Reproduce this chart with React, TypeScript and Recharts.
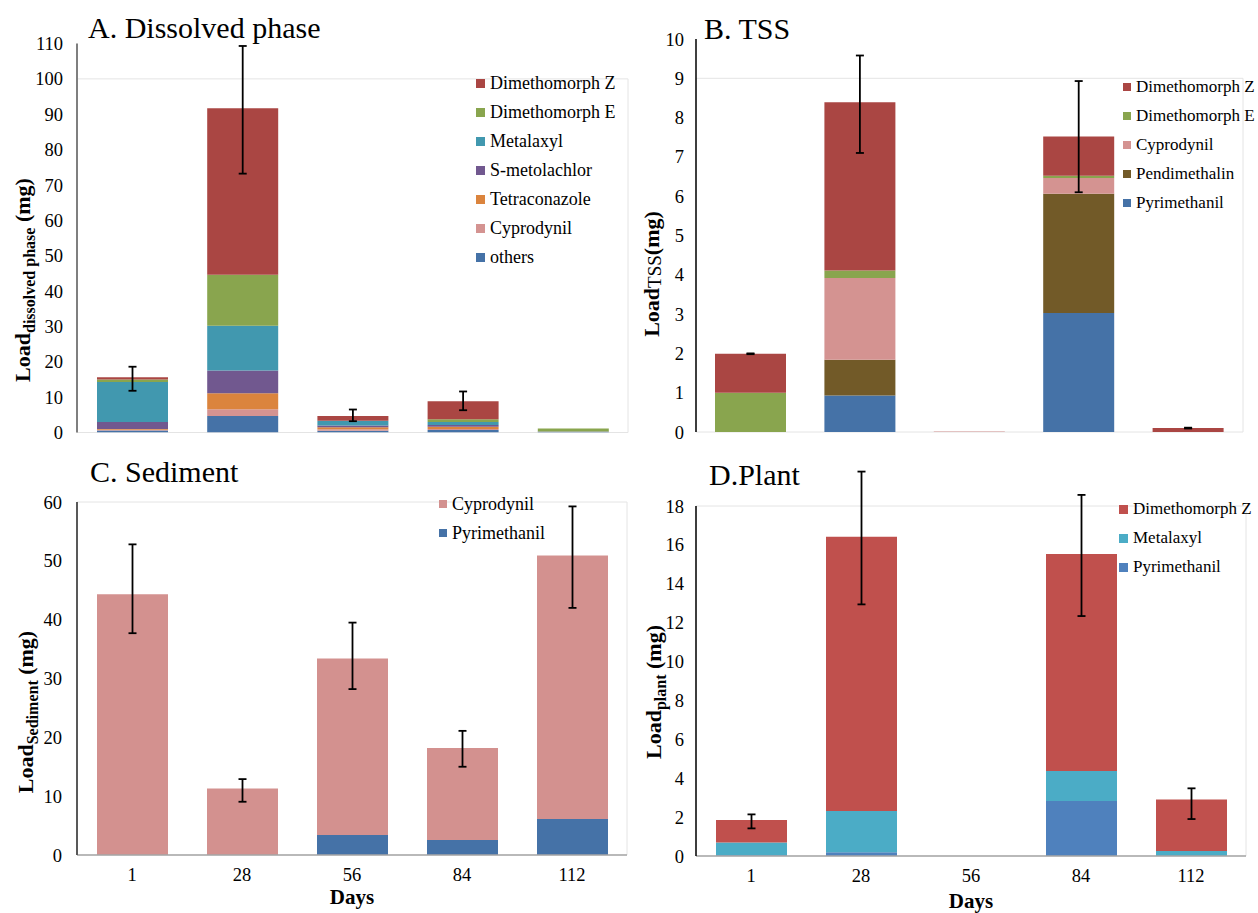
import React from 'react';
import { BarChart, Bar, XAxis, YAxis, ErrorBar, Legend, ReferenceArea } from 'recharts';

const FONT = "'Liberation Serif', 'Times New Roman', Times, serif";

const days = ['1', '28', '56', '84', '112'];

// A. Dissolved phase loads (mg), listed from the bottom of each stack upward
const dissolvedOthers = [0.6, 4.7, 0.5, 0.7, 0.2];
const dissolvedCyprodynil = [0.2, 1.9, 0.4, 0.3, 0];
const dissolvedTetraconazole = [0.2, 4.5, 0.6, 0.65, 0];
const dissolvedSMetolachlor = [2.0, 6.4, 0.5, 0.5, 0.1];
const dissolvedMetalaxyl = [11.3, 12.7, 1.3, 0.85, 0];
const dissolvedDimE = [0.7, 14.4, 0.05, 0.76, 0.8];
const dissolvedDimZ = [0.6, 47.1, 1.3, 5.1, 0];
const dissolvedErrLow = [3.8, 18.5, 1.45, 2.56, 0.4];
const dissolvedErrHigh = [3.0, 17.6, 1.85, 2.74, 1.3];
const dissolvedTicks = [0, 10, 20, 30, 40, 50, 60, 70, 80, 90, 100, 110];

// B. Loads on suspended solids (mg)
const tssPyrimethanil = [0, 0.93, 0, 3.03, 0];
const tssPendimethalin = [0, 0.91, 0, 3.03, 0];
const tssCyprodynil = [0, 2.08, 0.01, 0.4, 0];
const tssDimE = [1.0, 0.19, 0, 0.06, 0];
const tssDimZ = [0.99, 4.28, 0, 1.0, 0.1];
const tssErrLow = [0.01, 1.29, null, 1.42, 0.01];
const tssErrHigh = [0.01, 1.19, null, 1.41, 0.01];
const tssTicks = [0, 1, 2, 3, 4, 5, 6, 7, 8, 9, 10];

// C. Sediment loads (mg)
const sedPyrimethanil = [0, 0, 3.4, 2.55, 6.1];
const sedCyprodynil = [44.3, 11.3, 30.0, 15.65, 44.8];
const sedErrLow = [6.6, 2.25, 5.2, 3.2, 8.9];
const sedErrHigh = [8.5, 1.6, 6.1, 2.9, 8.35];
const sedTicks = [0, 10, 20, 30, 40, 50, 60];

// D. Plant loads (mg)
const plantPyrimethanil = [0.04, 0.19, 0, 2.83, 0];
const plantMetalaxyl = [0.66, 2.12, 0, 1.54, 0.26];
const plantDimZ = [1.15, 14.11, 0, 11.16, 2.65];
const plantErrLow = [0.43, 3.48, null, 3.19, 1.01];
const plantErrHigh = [0.29, 3.35, null, 3.04, 0.57];
const plantTicks = [0, 2, 4, 6, 8, 10, 12, 14, 16, 18];

type Series = { key: string; name: string; color: string; values: number[] };

const dissolvedSeries: Series[] = [
  { key: 'others', name: 'others', color: '#4572A7', values: dissolvedOthers },
  { key: 'cyp', name: 'Cyprodynil', color: '#D49391', values: dissolvedCyprodynil },
  { key: 'tetra', name: 'Tetraconazole', color: '#DB843D', values: dissolvedTetraconazole },
  { key: 'smeto', name: 'S-metolachlor', color: '#71588F', values: dissolvedSMetolachlor },
  { key: 'metal', name: 'Metalaxyl', color: '#4198AF', values: dissolvedMetalaxyl },
  { key: 'dimE', name: 'Dimethomorph E', color: '#89A54E', values: dissolvedDimE },
  { key: 'dimZ', name: 'Dimethomorph Z', color: '#AA4643', values: dissolvedDimZ },
];

const tssSeries: Series[] = [
  { key: 'pyr', name: 'Pyrimethanil', color: '#4572A7', values: tssPyrimethanil },
  { key: 'pend', name: 'Pendimethalin', color: '#725A28', values: tssPendimethalin },
  { key: 'cyp', name: 'Cyprodynil', color: '#D49391', values: tssCyprodynil },
  { key: 'dimE', name: 'Dimethomorph E', color: '#89A54E', values: tssDimE },
  { key: 'dimZ', name: 'Dimethomorph Z', color: '#AA4643', values: tssDimZ },
];

const sedSeries: Series[] = [
  { key: 'pyr', name: 'Pyrimethanil', color: '#4572A7', values: sedPyrimethanil },
  { key: 'cyp', name: 'Cyprodynil', color: '#D3918F', values: sedCyprodynil },
];

const plantSeries: Series[] = [
  { key: 'pyr', name: 'Pyrimethanil', color: '#4F81BD', values: plantPyrimethanil },
  { key: 'metal', name: 'Metalaxyl', color: '#4BACC6', values: plantMetalaxyl },
  { key: 'dimZ', name: 'Dimethomorph Z', color: '#C0504D', values: plantDimZ },
];

function buildRows(series: Series[], errLow: (number | null)[], errHigh: (number | null)[]) {
  return days.map((day, i) => {
    const row: Record<string, any> = { day };
    series.forEach((s) => {
      row[s.key] = s.values[i];
    });
    const lo = errLow[i];
    const hi = errHigh[i];
    row.err = lo == null || hi == null ? null : [lo, hi];
    return row;
  });
}

function SideLegend({ items, marker, fontSize }: { items: Series[]; marker: number; fontSize: number }) {
  return (
    <div style={{ fontFamily: FONT, fontSize, color: '#000', whiteSpace: 'nowrap' }}>
      {items.map((s) => (
        <div key={s.key} style={{ display: 'flex', alignItems: 'center', height: 29 }}>
          <span
            style={{ display: 'inline-block', width: marker, height: marker, background: s.color, marginRight: 5 }}
          />
          <span>{s.name}</span>
        </div>
      ))}
    </div>
  );
}

type LoadLabelProps = {
  cx: number;
  cy: number;
  sub: string;
  subBold: boolean;
  subSize: number;
  subDy: number;
  unit: string;
};

function LoadLabel({ cx, cy, sub, subBold, subSize, subDy, unit }: LoadLabelProps) {
  return (
    <text
      x={cx}
      y={cy}
      transform={`rotate(-90 ${cx} ${cy})`}
      textAnchor="middle"
      fontFamily={FONT}
      fill="#000"
    >
      <tspan fontWeight="bold" fontSize={22}>
        Load
      </tspan>
      <tspan fontWeight={subBold ? 'bold' : 'normal'} fontSize={subSize} dy={subDy}>
        {sub}
      </tspan>
      <tspan fontWeight="bold" fontSize={22} dy={-subDy}>
        {unit}
      </tspan>
    </text>
  );
}

type PanelProps = {
  left: number;
  top: number;
  width: number;
  height: number;
  margin: { top: number; right: number; bottom: number; left: number };
  yWidth: number;
  yMax: number;
  ticks: number[];
  yTickMargin: number;
  yAxisColor: string;
  yAxisStroke: number;
  frameTop: number;
  series: Series[];
  rows: Record<string, any>[];
  showDays: boolean;
  daysBaseline: number;
  xHeight: number;
  legendLeft: number;
  legendTop: number;
  legendMarker: number;
  legendFont: number;
  yLabel: LoadLabelProps;
};

function StackPanel(p: PanelProps) {
  const topKey = p.series[p.series.length - 1].key;
  const plotLeft = p.margin.left + p.yWidth;
  const plotRight = p.width - p.margin.right;
  const legendItems = [...p.series].reverse();
  return (
    <div style={{ position: 'absolute', left: p.left, top: p.top }}>
      <BarChart width={p.width} height={p.height} data={p.rows} margin={p.margin} barSize={71}>
        <ReferenceArea y1={0} y2={p.frameTop} fill="none" stroke="#E4E4E4" strokeWidth={1} />
        <XAxis
          dataKey="day"
          interval={0}
          tick={p.showDays ? { fontFamily: FONT, fontSize: 18.5, fill: '#000' } : false}
          tickLine={false}
          tickSize={0}
          tickMargin={13}
          height={p.xHeight}
          axisLine={{ stroke: '#A6A6A6', strokeWidth: 1.5 }}
          label={
            p.showDays
              ? {
                  content: () => (
                    <text
                      x={(plotLeft + plotRight) / 2}
                      y={p.daysBaseline}
                      textAnchor="middle"
                      fontFamily={FONT}
                      fontWeight="bold"
                      fontSize={21}
                      fill="#000"
                    >
                      Days
                    </text>
                  ),
                }
              : undefined
          }
        />
        <YAxis
          type="number"
          domain={[0, p.yMax]}
          ticks={p.ticks}
          interval={0}
          allowDataOverflow
          width={p.yWidth}
          tickLine={false}
          tickSize={0}
          tickMargin={p.yTickMargin}
          tick={{ fontFamily: FONT, fontSize: 18.5, fill: '#000' }}
          axisLine={{ stroke: p.yAxisColor, strokeWidth: p.yAxisStroke }}
          label={{ content: () => <LoadLabel {...p.yLabel} /> }}
        />
        {p.series.map((s) => (
          <Bar
            key={s.key}
            dataKey={s.key}
            name={s.name}
            stackId="load"
            fill={s.color}
            isAnimationActive={false}
          >
            {s.key === topKey ? (
              <ErrorBar dataKey="err" direction="y" width={4} stroke="#000" strokeWidth={1.8} />
            ) : null}
          </Bar>
        ))}
        <Legend
          layout="horizontal"
          verticalAlign="middle"
          align="center"
          wrapperStyle={{ left: p.legendLeft, top: p.legendTop, width: 'auto', height: 'auto' }}
          content={() => <SideLegend items={legendItems} marker={p.legendMarker} fontSize={p.legendFont} />}
        />
      </BarChart>
    </div>
  );
}

const titleStyle = { fontFamily: FONT, fontSize: 30, fill: '#000' } as const;

export default function App() {
  return (
    <div
      style={{
        position: 'absolute',
        left: 0,
        top: 0,
        width: 1258,
        height: 913,
        overflow: 'hidden',
        background: '#fff',
      }}
    >
      <StackPanel
        left={0}
        top={0}
        width={640}
        height={450}
        margin={{ top: 43.5, right: 12, bottom: 17.5, left: 0 }}
        yWidth={77}
        yMax={110}
        ticks={dissolvedTicks}
        yTickMargin={14}
        yAxisColor="#7F7F7F"
        yAxisStroke={2}
        frameTop={100}
        series={dissolvedSeries}
        rows={buildRows(dissolvedSeries, dissolvedErrLow, dissolvedErrHigh)}
        showDays={false}
        daysBaseline={0}
        xHeight={0}
        legendLeft={476}
        legendTop={68.5}
        legendMarker={9}
        legendFont={18}
        yLabel={{ cx: 30, cy: 280, sub: 'dissolved phase', subBold: true, subSize: 16, subDy: 5, unit: ' (mg)' }}
      />
      <StackPanel
        left={620}
        top={0}
        width={638}
        height={450}
        margin={{ top: 39, right: 15, bottom: 18, left: 0 }}
        yWidth={76}
        yMax={10}
        ticks={tssTicks}
        yTickMargin={12}
        yAxisColor="#000"
        yAxisStroke={1.5}
        frameTop={9}
        series={tssSeries}
        rows={buildRows(tssSeries, tssErrLow, tssErrHigh)}
        showDays={false}
        daysBaseline={0}
        xHeight={0}
        legendLeft={503}
        legendTop={72.5}
        legendMarker={8}
        legendFont={17}
        yLabel={{ cx: 39, cy: 274, sub: 'TSS', subBold: false, subSize: 19, subDy: 2, unit: '(mg)' }}
      />
      <StackPanel
        left={0}
        top={450}
        width={640}
        height={463}
        margin={{ top: 52, right: 13, bottom: 8, left: 0 }}
        yWidth={77}
        yMax={60}
        ticks={sedTicks}
        yTickMargin={15}
        yAxisColor="#595959"
        yAxisStroke={2}
        frameTop={60}
        series={sedSeries}
        rows={buildRows(sedSeries, sedErrLow, sedErrHigh)}
        showDays
        daysBaseline={454}
        xHeight={50}
        legendLeft={439}
        legendTop={39.5}
        legendMarker={8}
        legendFont={18}
        yLabel={{ cx: 33, cy: 262, sub: 'Sediment', subBold: true, subSize: 16, subDy: 5, unit: ' (mg)' }}
      />
      <StackPanel
        left={636}
        top={450}
        width={622}
        height={463}
        margin={{ top: 56, right: 12, bottom: 7, left: 0 }}
        yWidth={60}
        yMax={18}
        ticks={plantTicks}
        yTickMargin={12}
        yAxisColor="#000"
        yAxisStroke={1.5}
        frameTop={18}
        series={plantSeries}
        rows={buildRows(plantSeries, plantErrLow, plantErrHigh)}
        showDays
        daysBaseline={458}
        xHeight={50}
        legendLeft={483}
        legendTop={44.5}
        legendMarker={9}
        legendFont={17}
        yLabel={{ cx: 25, cy: 242, sub: 'plant', subBold: true, subSize: 16, subDy: 5, unit: ' (mg)' }}
      />
      <svg
        width={1258}
        height={913}
        style={{ position: 'absolute', left: 0, top: 0, pointerEvents: 'none' }}
      >
        <text x={88} y={38} {...titleStyle}>
          A. Dissolved phase
        </text>
        <text x={704} y={39} {...titleStyle}>
          B. TSS
        </text>
        <text x={90} y={482} {...titleStyle}>
          C. Sediment
        </text>
        <text x={709} y={485} {...titleStyle}>
          D.Plant
        </text>
      </svg>
    </div>
  );
}
